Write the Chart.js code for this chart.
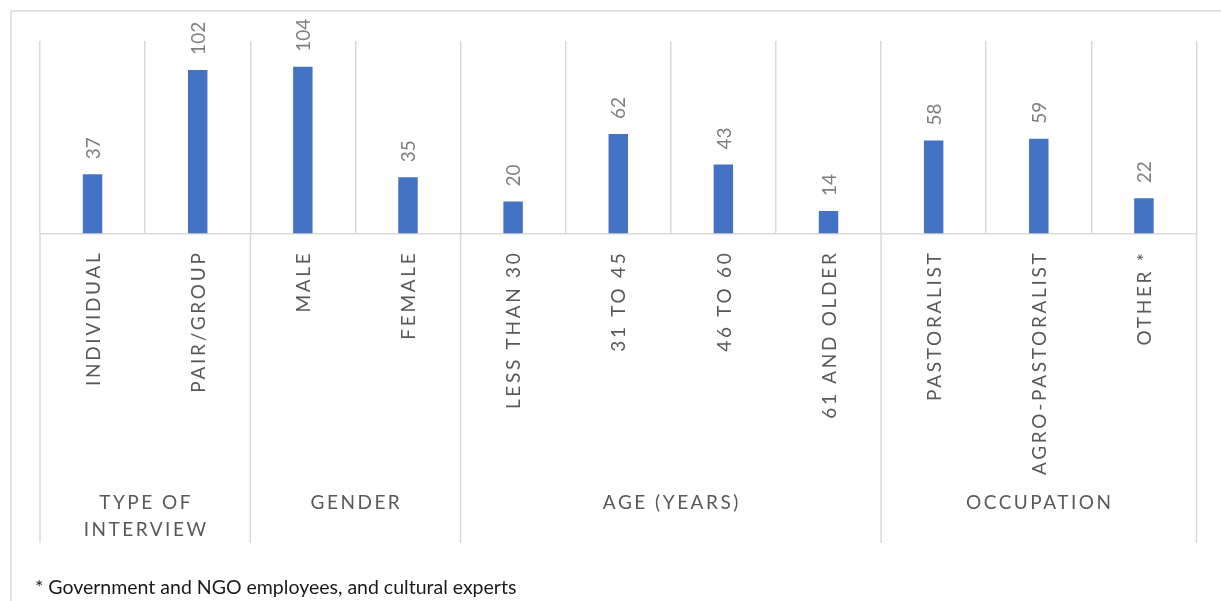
<!DOCTYPE html>
<html>
<head>
<meta charset="utf-8">
<script src="https://cdn.jsdelivr.net/npm/chart.js@4/dist/chart.umd.min.js"></script>
<style>
  html, body { margin: 0; padding: 0; background: #fff; }
  canvas { display: block; }
</style>
</head>
<body>
<canvas id="grafico" width="1221" height="601"></canvas>
<script>
// dados
const categorias = ["INDIVIDUAL", "PAIR/GROUP", "MALE", "FEMALE", "LESS THAN 30", "31 TO 45", "46 TO 60", "61 AND OLDER", "PASTORALIST", "AGRO-PASTORALIST", "OTHER *"];
const valores = [37, 102, 104, 35, 20, 62, 43, 14, 58, 59, 22];
const grupos = [["TYPE OF", "INTERVIEW"], ["GENDER"], ["AGE (YEARS)"], ["OCCUPATION"]];
const tamanhoGrupos = [2, 2, 4, 3];
const nota = "* Government and NGO employees, and cultural experts";

const fonte = "Lato, 'Open Sans', sans-serif";
const cinzaLinha = "#d9d9d9";

const desenhaExtras = {
  id: "desenhaExtras",
  beforeDraw(chart) {
    const ctx = chart.ctx;
    ctx.save();
    // moldura do grafico
    ctx.strokeStyle = cinzaLinha;
    ctx.lineWidth = 1.5;
    ctx.beginPath();
    ctx.moveTo(11, 601);
    ctx.lineTo(11, 11);
    ctx.lineTo(1221, 11);
    ctx.stroke();
    ctx.restore();
  },
  afterDraw(chart) {
    const ctx = chart.ctx;
    const x = chart.scales.x;
    const y = chart.scales.y;
    const area = chart.chartArea;
    const meio = (x.getPixelForValue(1) - x.getPixelForValue(0)) / 2;
    const fundo = 543;

    ctx.save();
    // rotulos de valor
    ctx.fillStyle = "#808080";
    ctx.font = "19px " + fonte;
    ctx.textAlign = "left";
    ctx.textBaseline = "middle";
    valores.forEach((v, i) => {
      const px = x.getPixelForValue(i);
      const py = y.getPixelForValue(v) - 15;
      ctx.save();
      ctx.translate(px + 1, py);
      ctx.rotate(-Math.PI / 2);
      ctx.fillText(String(v), 0, 0);
      ctx.restore();
    });

    // rotulos das categorias
    ctx.fillStyle = "#595959";
    ctx.font = "19px " + fonte;
    if ("letterSpacing" in ctx) ctx.letterSpacing = "2.7px";
    ctx.textAlign = "right";
    categorias.forEach((c, i) => {
      const px = x.getPixelForValue(i);
      ctx.save();
      ctx.translate(px + 1, area.bottom + 17);
      ctx.rotate(-Math.PI / 2);
      ctx.fillText(c, 0, 0);
      ctx.restore();
    });

    // linhas e nomes dos grupos
    ctx.strokeStyle = cinzaLinha;
    ctx.lineWidth = 1.5;
    let inicio = 0;
    const limites = [0];
    tamanhoGrupos.forEach((t) => {
      inicio += t;
      limites.push(inicio);
    });
    limites.forEach((b) => {
      const bx = x.getPixelForValue(b) - meio;
      ctx.beginPath();
      ctx.moveTo(bx, area.bottom);
      ctx.lineTo(bx, fundo);
      ctx.stroke();
    });

    if ("letterSpacing" in ctx) ctx.letterSpacing = "2.5px";
    ctx.textAlign = "center";
    ctx.textBaseline = "middle";
    grupos.forEach((g, i) => {
      const x0 = x.getPixelForValue(limites[i]) - meio;
      const x1 = x.getPixelForValue(limites[i + 1]) - meio;
      const cx = (x0 + x1) / 2 + 1;
      g.forEach((linha, j) => {
        ctx.fillText(linha, cx, 503 + j * 26.5);
      });
    });

    // nota de rodape
    if ("letterSpacing" in ctx) ctx.letterSpacing = "0px";
    ctx.fillStyle = "#1a1a1a";
    ctx.font = "19.5px " + fonte;
    ctx.textAlign = "left";
    ctx.fillText(nota, 35, 588);
    ctx.restore();
  }
};

new Chart(document.getElementById("grafico"), {
  type: "bar",
  data: {
    labels: categorias,
    datasets: [
      {
        data: valores,
        backgroundColor: "#4472c4",
        categoryPercentage: 1,
        barPercentage: 0.185,
      },
    ],
  },
  options: {
    responsive: false,
    animation: false,
    layout: { padding: { left: 40, right: 24.5, top: 41, bottom: 57.5 } },
    plugins: { legend: { display: false }, tooltip: { enabled: false } },
    scales: {
      x: {
        ticks: { display: false },
        grid: { offset: true, color: cinzaLinha, lineWidth: 1.5, drawTicks: false },
        border: { color: cinzaLinha, width: 1.5 },
        afterFit: (s) => { s.height = 310; },
      },
      y: { display: false, min: 0, max: 120 },
    },
  },
  plugins: [desenhaExtras],
});
</script>
</body>
</html>
